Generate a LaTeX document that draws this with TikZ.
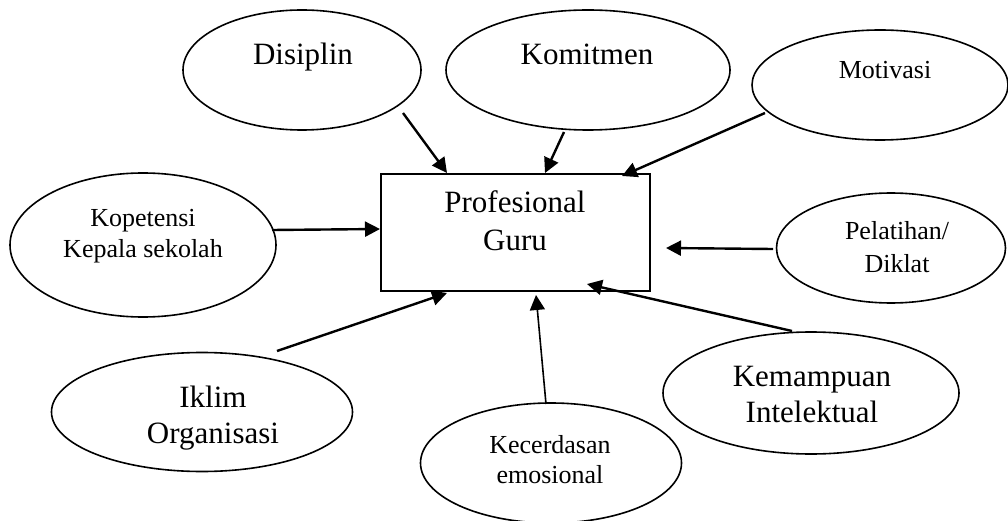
\documentclass[tikz,border=0pt]{standalone}
\usepackage{fontspec}
\setmainfont{Liberation Serif}
\usetikzlibrary{calc}
\usetikzlibrary{shapes.geometric}
\usetikzlibrary{arrows.meta}
\tikzstyle{oval}=[draw,ellipse,line width=1.6pt,inner sep=0pt]
\tikzstyle{bigtext}=[anchor=base,inner sep=0pt,font=\fontsize{31}{37}\selectfont]
\tikzstyle{smalltext}=[anchor=base,inner sep=0pt,font=\fontsize{26}{30}\selectfont]
\tikzstyle{influence}=[line width=2.4pt,-{Triangle[length=15pt,width=15pt]}]

\begin{document}
\begin{tikzpicture}[x=1pt,y=-1pt]
\useasboundingbox (0,0) rectangle (1008,521);
% central box
\node[draw,line width=2pt,minimum width=269pt,minimum height=117pt,inner sep=0pt] (guru) at (515.5,232.5) {};
\node[bigtext] (tprof) at (515,213) {Profesional};
\node[bigtext] (tguru) at (515,251) {Guru};

% factors round the box
\node[oval,minimum width=238pt,minimum height=120pt] (disiplin) at (302,70) {};
\node[bigtext] (tdisiplin) at (303,65) {Disiplin};
\node[oval,minimum width=284pt,minimum height=120pt] (komitmen) at (588,70) {};
\node[bigtext] (tkomitmen) at (587,65) {Komitmen};
\node[oval,minimum width=256pt,minimum height=110pt] (motivasi) at (880,85) {};
\node[smalltext] (tmotivasi) at (885,79) {Motivasi};
\node[oval,minimum width=266pt,minimum height=144pt] (kopetensi) at (143,245) {};
\node[smalltext] (tkop1) at (143,227) {Kopetensi};
\node[smalltext] (tkop2) at (143,257) {Kepala sekolah};
\node[oval,minimum width=229pt,minimum height=110pt] (pelatihan) at (891,248) {};
\node[smalltext] (tpel1) at (897,240) {Pelatihan/};
\node[smalltext] (tpel2) at (897,272) {Diklat};
\node[oval,minimum width=301pt,minimum height=119pt] (iklim) at (202,412) {};
\node[bigtext] (tiklim1) at (213,407) {Iklim};
\node[bigtext] (tiklim2) at (213,443) {Organisasi};
\node[oval,minimum width=261pt,minimum height=120pt] (kecerdasan) at (551,463) {};
\node[smalltext] (tkec1) at (550,453) {Kecerdasan};
\node[smalltext] (tkec2) at (550,483) {emosional};
\node[oval,minimum width=296pt,minimum height=122pt] (kemampuan) at (811,393) {};
\node[bigtext] (tkem1) at (812,386) {Kemampuan};
\node[bigtext] (tkem2) at (812,422) {Intelektual};

% arrows into the box
\draw[influence] ($(disiplin.center)+(101,43)$) -- ($(guru.north west)+(67,0)$);
\draw[influence] ($(komitmen.center)+(-24,62)$) -- ($(guru.north west)+(165,0)$);
\draw[influence] ($(motivasi.center)+(-115,28)$) -- ($(guru.north west)+(242,3)$);
\draw[influence] ($(kopetensi.center)+(129,-15)$) -- ($(guru.north west)+(0,56)$);
\draw[influence] ($(pelatihan.center)+(-118,1)$) -- ($(guru.north east)+(15,75)$);
\draw[influence] ($(kemampuan.center)+(-19,-62)$) -- ($(guru.north west)+(207,111)$);
\draw[influence,line width=1.6pt] ($(kecerdasan.center)+(-5,-59)$) -- ($(guru.south west)+(156,3)$);
\draw[influence] ($(iklim.center)+(75,-61)$) -- ($(guru.south west)+(67,1)$);
\end{tikzpicture}
\end{document}
